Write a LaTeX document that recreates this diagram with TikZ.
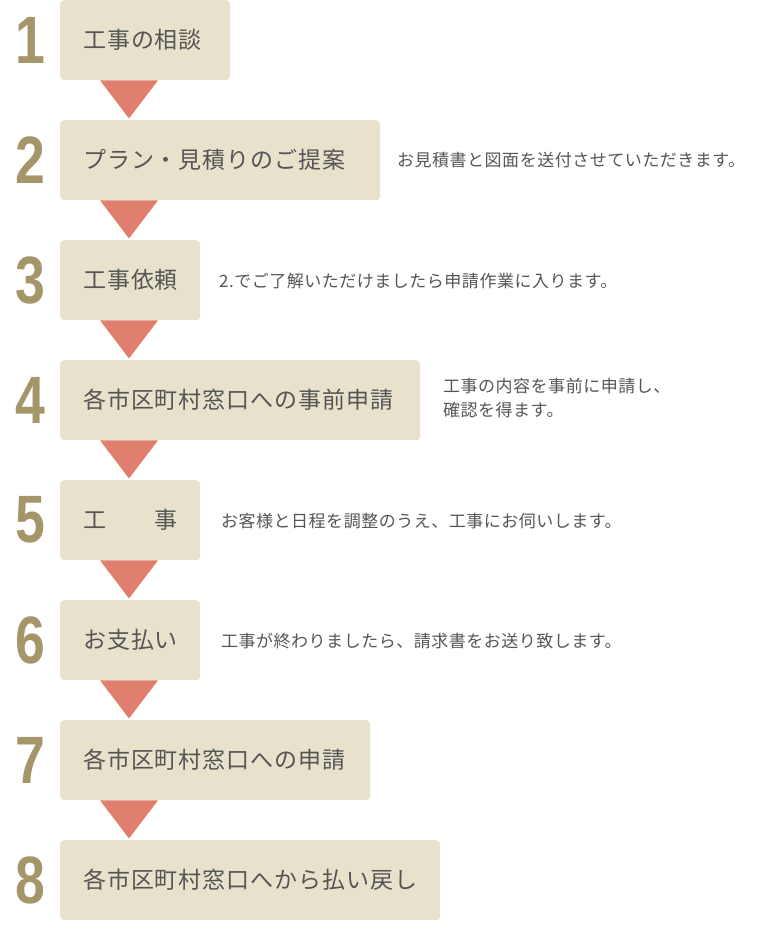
\documentclass[tikz,border=0pt]{standalone}
\usepackage{fontspec}
\newfontfamily\jp[LetterSpace=4]{Noto Sans CJK JP}
\newfontfamily\jps[LetterSpace=3]{Noto Sans CJK JP}
\newfontfamily\numfont{Liberation Sans}
\definecolor{boxc}{HTML}{E8E1CC}
\definecolor{tric}{HTML}{E07F6E}
\definecolor{numc}{HTML}{A59669}
\definecolor{txtc}{HTML}{555555}
\tikzset{
  stepbox/.style={fill=boxc, rounded corners=4pt, minimum height=80pt, inner sep=0pt, anchor=north west},
  boxlabel/.style={anchor=west, inner sep=0pt, text=txtc, font=\jp\fontsize{23pt}{27pt}\selectfont},
  sidenote/.style={anchor=west, inner sep=0pt, text=txtc, align=left, font=\jps\fontsize{17pt}{24pt}\selectfont},
  stepnum/.style={inner sep=0pt, text=numc, font=\numfont\bfseries\fontsize{67pt}{67pt}\selectfont},
  tri/.style={fill=tric}
}
\newcommand{\narrow}[1]{\scalebox{0.8}[1]{#1}}
\begin{document}
\begin{tikzpicture}[x=1pt,y=-1pt]
\useasboundingbox (0,0) rectangle (780,940);
% boxes
\node[stepbox, minimum width=170pt] (b1) at (60,0) {};
\node[stepbox, minimum width=320pt] (b2) at (60,120) {};
\node[stepbox, minimum width=140pt] (b3) at (60,240) {};
\node[stepbox, minimum width=360pt] (b4) at (60,360) {};
\node[stepbox, minimum width=140pt] (b5) at (60,480) {};
\node[stepbox, minimum width=140pt] (b6) at (60,600) {};
\node[stepbox, minimum width=310pt] (b7) at (60,720) {};
\node[stepbox, minimum width=380pt] (b8) at (60,840) {};
% labels
\node[boxlabel] (l1) at ([xshift=23pt]b1.west) {工事の相談};
\node[boxlabel] (l2) at ([xshift=23pt]b2.west) {プラン・見積りのご提案};
\node[boxlabel] (l3) at ([xshift=23pt]b3.west) {工事依頼};
\node[boxlabel] (l4) at ([xshift=23pt]b4.west) {各市区町村窓口への事前申請};
\node[boxlabel] (l5) at ([xshift=23pt]b5.west) {工　　事};
\node[boxlabel] (l6) at ([xshift=23pt]b6.west) {お支払い};
\node[boxlabel] (l7) at ([xshift=23pt]b7.west) {各市区町村窓口への申請};
\node[boxlabel] (l8) at ([xshift=23pt]b8.west) {各市区町村窓口へから払い戻し};
% numbers
\node[stepnum] (n1) at (30,40) {\narrow{1}};
\node[stepnum] (n2) at (30,160) {\narrow{2}};
\node[stepnum] (n3) at (30,280) {\narrow{3}};
\node[stepnum] (n4) at (30,400) {\narrow{4}};
\node[stepnum] (n5) at (30,520) {\narrow{5}};
\node[stepnum] (n6) at (30,640) {\narrow{6}};
\node[stepnum] (n7) at (30,760) {\narrow{7}};
\node[stepnum] (n8) at (30,880) {\narrow{8}};
% triangles
\foreach \b in {b1,b2,b3,b4,b5,b6,b7}{
  \fill[tri] ([xshift=40pt]\b.south west) -- ([xshift=98pt]\b.south west) -- ([xshift=69pt,yshift=-38pt]\b.south west) -- cycle;
}
% side notes
\node[sidenote] (s2) at (397,160) {お見積書と図面を送付させていただきます。};
\node[sidenote] (s3) at (219,281) {2.でご了解いただけましたら申請作業に入ります。};
\node[sidenote] (s4) at (443,398) {工事の内容を事前に申請し、\\確認を得ます。};
\node[sidenote] (s5) at (221,521) {お客様と日程を調整のうえ、工事にお伺いします。};
\node[sidenote] (s6) at (221,641) {工事が終わりましたら、請求書をお送り致します。};
\end{tikzpicture}
\end{document}
